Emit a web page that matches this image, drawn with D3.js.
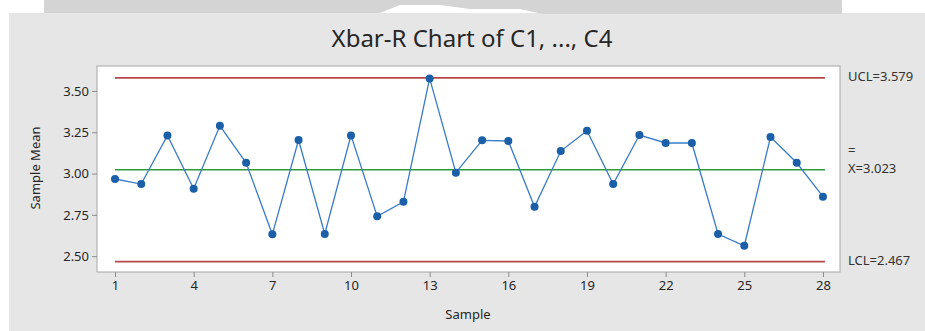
<!DOCTYPE html>
<html>
<head>
<meta charset="utf-8">
<script src="https://cdn.jsdelivr.net/npm/d3@7"></script>
<style>
  body { margin: 0; background: #fff; }
  svg { display: block; font-family: "Noto Sans", "Open Sans", sans-serif; }
</style>
</head>
<body>
<div id="chart"></div>
<script>
// sample means
const samples = d3.range(1, 29);
const means = [2.967, 2.936, 3.231, 2.908, 3.289, 3.065, 2.632, 3.203, 2.634, 3.231,
               2.741, 2.829, 3.576, 3.005, 3.201, 3.197, 2.799, 3.136, 3.259, 2.936,
               3.233, 3.185, 3.185, 2.634, 2.563, 3.221, 3.065, 2.860];
const xTicks = [1, 4, 7, 10, 13, 16, 19, 22, 25, 28];
const yTicks = [2.50, 2.75, 3.00, 3.25, 3.50];
const ucl = 3.579, cl = 3.023, lcl = 2.467;

const W = 925, H = 331;
const plot = {left: 97, top: 66, right: 840, bottom: 272};

const svg = d3.select("#chart").append("svg")
    .attr("width", W).attr("height", H);

// panel background
svg.append("rect").attr("x", 9).attr("y", 13).attr("width", W - 9).attr("height", H - 13)
    .attr("fill", "#e6e6e6");
// grey strip at the very top
svg.append("path")
    .attr("d", "M44,0H842V14H543L520,9H470L440,5H400L380,13H44Z")
    .attr("fill", "#d4d4d4");

const x = d3.scaleLinear().domain([0.313, 28.65]).range([plot.left, plot.right]);
const y = d3.scaleLinear().domain([2.404, 3.651]).range([plot.bottom, plot.top]);

svg.append("rect")
    .attr("x", plot.left).attr("y", plot.top)
    .attr("width", plot.right - plot.left).attr("height", plot.bottom - plot.top)
    .attr("fill", "#fff").attr("stroke", "#a6a6a6").attr("stroke-width", 1);

// axes
const xAxis = svg.append("g").attr("transform", "translate(0," + plot.bottom + ")")
    .call(d3.axisBottom(x).tickValues(xTicks).tickSize(5).tickPadding(4).tickFormat(d3.format("d")));
const yAxis = svg.append("g").attr("transform", "translate(" + plot.left + ",0)")
    .call(d3.axisLeft(y).tickValues(yTicks).tickSize(5).tickPadding(3).tickFormat(d3.format(".2f")));
[xAxis, yAxis].forEach(g => {
  g.select(".domain").remove();
  g.selectAll(".tick line").attr("stroke", "#8c8c8c");
  g.selectAll(".tick text").attr("fill", "#262626").style("font-size", "13px")
      .style("font-family", "'Noto Sans', sans-serif");
});

// control lines
const x0 = x(1), x1 = x(28) + 2;
svg.append("line").attr("x1", x0).attr("x2", x1).attr("y1", y(ucl)).attr("y2", y(ucl))
    .attr("stroke", "#b5474a").attr("stroke-width", 1.6);
svg.append("line").attr("x1", x0).attr("x2", x1).attr("y1", y(lcl)).attr("y2", y(lcl))
    .attr("stroke", "#b5474a").attr("stroke-width", 1.6);
svg.append("line").attr("x1", x0).attr("x2", x1).attr("y1", y(cl)).attr("y2", y(cl))
    .attr("stroke", "#2e9a3e").attr("stroke-width", 1.4);

// data
const pts = samples.map((s, i) => [s, means[i]]);
svg.append("path").datum(pts)
    .attr("fill", "none").attr("stroke", "#3a7cc8").attr("stroke-width", 1.3)
    .attr("d", d3.line().x(d => x(d[0])).y(d => y(d[1])));
svg.selectAll("circle.pt").data(pts).enter().append("circle")
    .attr("class", "pt")
    .attr("cx", d => x(d[0])).attr("cy", d => y(d[1])).attr("r", 4)
    .attr("fill", "#1b5fa8");

// right-hand labels
const lab = (t, ty) => svg.append("text").attr("x", 848).attr("y", ty)
    .attr("dominant-baseline", "middle").attr("fill", "#333").style("font-size", "13px").text(t);
lab("UCL=3.579", y(ucl));
lab("LCL=2.467", y(lcl));
// X double-bar: bar drawn as "=" on the line above
const xbar = svg.append("text").attr("fill", "#333").style("font-size", "13px");
xbar.append("tspan").attr("x", 848).attr("y", y(cl) - 15).text("=");
xbar.append("tspan").attr("x", 848).attr("y", y(cl) + 3).text("X=3.023");

// titles
svg.append("text").attr("x", 472).attr("y", 41).attr("text-anchor", "middle")
    .attr("dominant-baseline", "middle").attr("fill", "#262626")
    .style("font-size", "24px").text("Xbar-R Chart of C1, ..., C4");
svg.append("text").attr("x", 468).attr("y", 316).attr("text-anchor", "middle")
    .attr("dominant-baseline", "middle").attr("fill", "#262626")
    .style("font-size", "13px").text("Sample");
svg.append("text").attr("transform", "translate(37,168) rotate(-90)")
    .attr("text-anchor", "middle").attr("dominant-baseline", "middle").attr("fill", "#262626")
    .style("font-size", "13px").text("Sample Mean");
</script>
</body>
</html>
